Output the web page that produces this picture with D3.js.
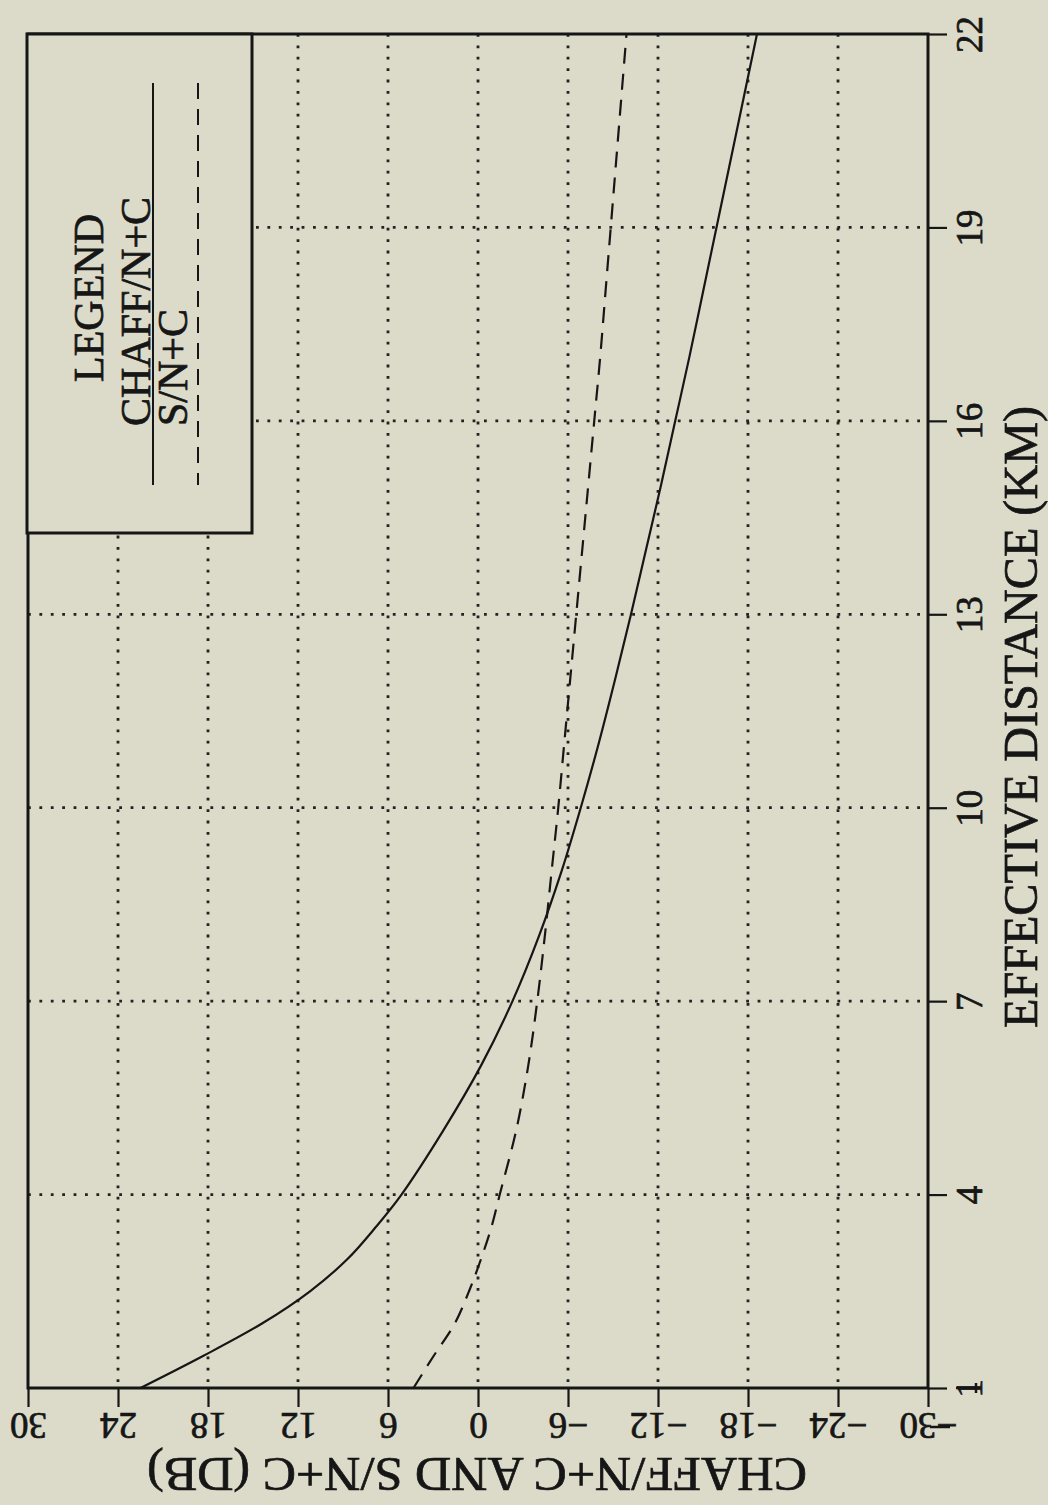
<!DOCTYPE html>
<html>
<head>
<meta charset="utf-8">
<script src="https://cdn.jsdelivr.net/npm/d3@7"></script>
<style>
    html, body { margin: 0; padding: 0; background: #dcdbc9; }
    #svg-container { width: 1048px; height: 1505px; }
    text { font-family: "Liberation Serif", "DejaVu Serif", serif; fill: #161616; stroke: #161616; stroke-width: 0.7px; }
</style>
</head>
<body>
<div id="svg-container"></div>
<script>
// distance in km (horizontal axis of the original plot, drawn turned on its side)
const distanceKm = [1, 1.5, 2, 2.5, 3, 3.5, 4, 5, 6, 7, 8, 9, 10, 11, 12, 13, 14, 15, 16, 17, 18, 19, 20, 21, 22]
// CHAFF/N+C in dB (solid)
const chaffDb = [22.5, 18.3, 14.4, 11.2, 8.7, 6.8, 5.1, 2.3, -0.2, -2.3, -4.05, -5.55, -6.85, -8.05, -9.15, -10.2, -11.2, -12.2, -13.15, -14.1, -15.0, -15.9, -16.8, -17.7, -18.6]
// S/N+C in dB (dashed)
const snDb = [4.3, 2.95, 1.55, 0.6, -0.2, -0.9, -1.45, -2.55, -3.35, -3.95, -4.45, -4.9, -5.35, -5.75, -6.15, -6.55, -6.95, -7.35, -7.75, -8.15, -8.5, -8.85, -9.2, -9.55, -9.9]

const distTicks = [1, 4, 7, 10, 13, 16, 19, 22]
const dbTicks = [30, 24, 18, 12, 6, 0, -6, -12, -18, -24, -30]

const series = [
    { name: 'CHAFF/N+C', values: chaffDb, dash: null },
    { name: 'S/N+C', values: snDb, dash: '16,10' }
]

const ink = '#161616'
const paper = '#dcdbc9'

const svg = d3.select('#svg-container')
    .append('svg').attr('width', 1048).attr('height', 1505)

svg.append('rect').attr('width', 1048).attr('height', 1505).attr('fill', paper)

// the plot is turned a quarter turn: dB runs left->right (30 to -30), km runs bottom->top
const dbScale = d3.scaleLinear().domain([30, -30]).range([28, 928])
const kmScale = d3.scaleLinear().domain([1, 22]).range([1388, 34])

const [plotLeft, plotRight] = dbScale.range()
const [plotBottom, plotTop] = kmScale.range()

// dotted grid
const grid = svg.append('g')
    .attr('stroke', '#222').attr('stroke-width', 2.8)
    .attr('stroke-dasharray', '2.8,8.6').attr('fill', 'none')

grid.selectAll('.hgrid')
    .data(distTicks.filter(d => d !== 1 && d !== 22))
    .enter().append('line')
    .attr('x1', plotLeft).attr('x2', plotRight)
    .attr('y1', d => kmScale(d)).attr('y2', d => kmScale(d))

grid.selectAll('.vgrid')
    .data(dbTicks.filter(d => d !== 30 && d !== -30))
    .enter().append('line')
    .attr('y1', plotTop).attr('y2', plotBottom)
    .attr('x1', d => dbScale(d)).attr('x2', d => dbScale(d))

// curves
const line = d3.line()
    .x(d => dbScale(d[1]))
    .y(d => kmScale(d[0]))
    .curve(d3.curveCatmullRom)

svg.selectAll('.curve')
    .data(series)
    .enter().append('path')
    .attr('d', s => line(distanceKm.map((k, i) => [k, s.values[i]])))
    .attr('fill', 'none')
    .attr('stroke', ink)
    .attr('stroke-width', 2.2)
    .attr('stroke-dasharray', s => s.dash)

// km axis on the right
const kmAxis = d3.axisRight(kmScale)
    .tickValues(distTicks)
    .tickSize(19)
    .tickSizeOuter(0)
    .tickFormat(d3.format('d'))

const kmAxisG = svg.append('g')
    .attr('transform', `translate(${plotRight}, 0)`)
    .call(kmAxis)
kmAxisG.select('.domain').remove()
kmAxisG.selectAll('.tick line').attr('stroke', ink).attr('stroke-width', 2.2)
kmAxisG.selectAll('.tick text')
    .attr('x', null).attr('dy', null)
    .attr('text-anchor', 'middle')
    .attr('font-size', 37)
    .attr('fill', ink)
    .attr('transform', 'translate(54, 0) rotate(-90)')

kmAxisG.append('text')
    .attr('transform', `translate(109, 717) rotate(-90)`)
    .attr('text-anchor', 'middle')
    .attr('font-size', 48)
    .attr('textLength', 622).attr('lengthAdjust', 'spacingAndGlyphs')
    .text('EFFECTIVE DISTANCE (KM)')

// dB axis along the bottom, labels upside down
const dbAxis = d3.axisBottom(dbScale)
    .tickValues(dbTicks)
    .tickSize(19)
    .tickSizeOuter(0)
    .tickFormat(d => d < 0 ? '\u2212' + Math.abs(d) : d)

const dbAxisG = svg.append('g')
    .attr('transform', `translate(0, ${plotBottom})`)
    .call(dbAxis)
dbAxisG.select('.domain').remove()
dbAxisG.selectAll('.tick line').attr('stroke', ink).attr('stroke-width', 2.2)
dbAxisG.selectAll('.tick text')
    .attr('y', null).attr('dy', null)
    .attr('text-anchor', 'middle')
    .attr('font-size', 37)
    .attr('fill', ink)
    .attr('transform', 'translate(0, 25) rotate(180)')

dbAxisG.append('text')
    .attr('transform', `translate(477, 70) rotate(180)`)
    .attr('text-anchor', 'middle')
    .attr('font-size', 48)
    .attr('textLength', 660).attr('lengthAdjust', 'spacingAndGlyphs')
    .text('CHAFF/N+C AND S/N+C (DB)')

// frame
svg.append('rect')
    .attr('x', plotLeft).attr('y', plotTop)
    .attr('width', plotRight - plotLeft).attr('height', plotBottom - plotTop)
    .attr('fill', 'none').attr('stroke', ink).attr('stroke-width', 3)

// small stray marks near the origin, as on the plot
svg.append('path')
    .attr('d', `M${plotRight + 28},${plotBottom} h20 M${plotRight + 48},${plotBottom - 5} v10 M${plotRight + 2},${plotBottom + 39} h20`)
    .attr('stroke', ink).attr('stroke-width', 2.5)

// legend (top-left corner)
const legend = svg.append('g')
legend.append('rect')
    .attr('x', 27).attr('y', plotTop).attr('width', 225).attr('height', 499)
    .attr('fill', paper).attr('stroke', ink).attr('stroke-width', 3)

legend.append('text')
    .attr('transform', 'translate(103, 298) rotate(-90)')
    .attr('text-anchor', 'middle')
    .attr('font-size', 42)
    .text('LEGEND')

const legendX = [150, 187]
const lineX = [153, 198]
series.forEach((s, i) => {
    legend.append('text')
        .attr('transform', `translate(${legendX[i]}, 426) rotate(-90)`)
        .attr('font-size', 42)
        .text(s.name)
    legend.append('line')
        .attr('x1', lineX[i]).attr('x2', lineX[i])
        .attr('y1', 83).attr('y2', 485)
        .attr('stroke', ink).attr('stroke-width', 2)
        .attr('stroke-dasharray', s.dash)
})
</script>
</body>
</html>
